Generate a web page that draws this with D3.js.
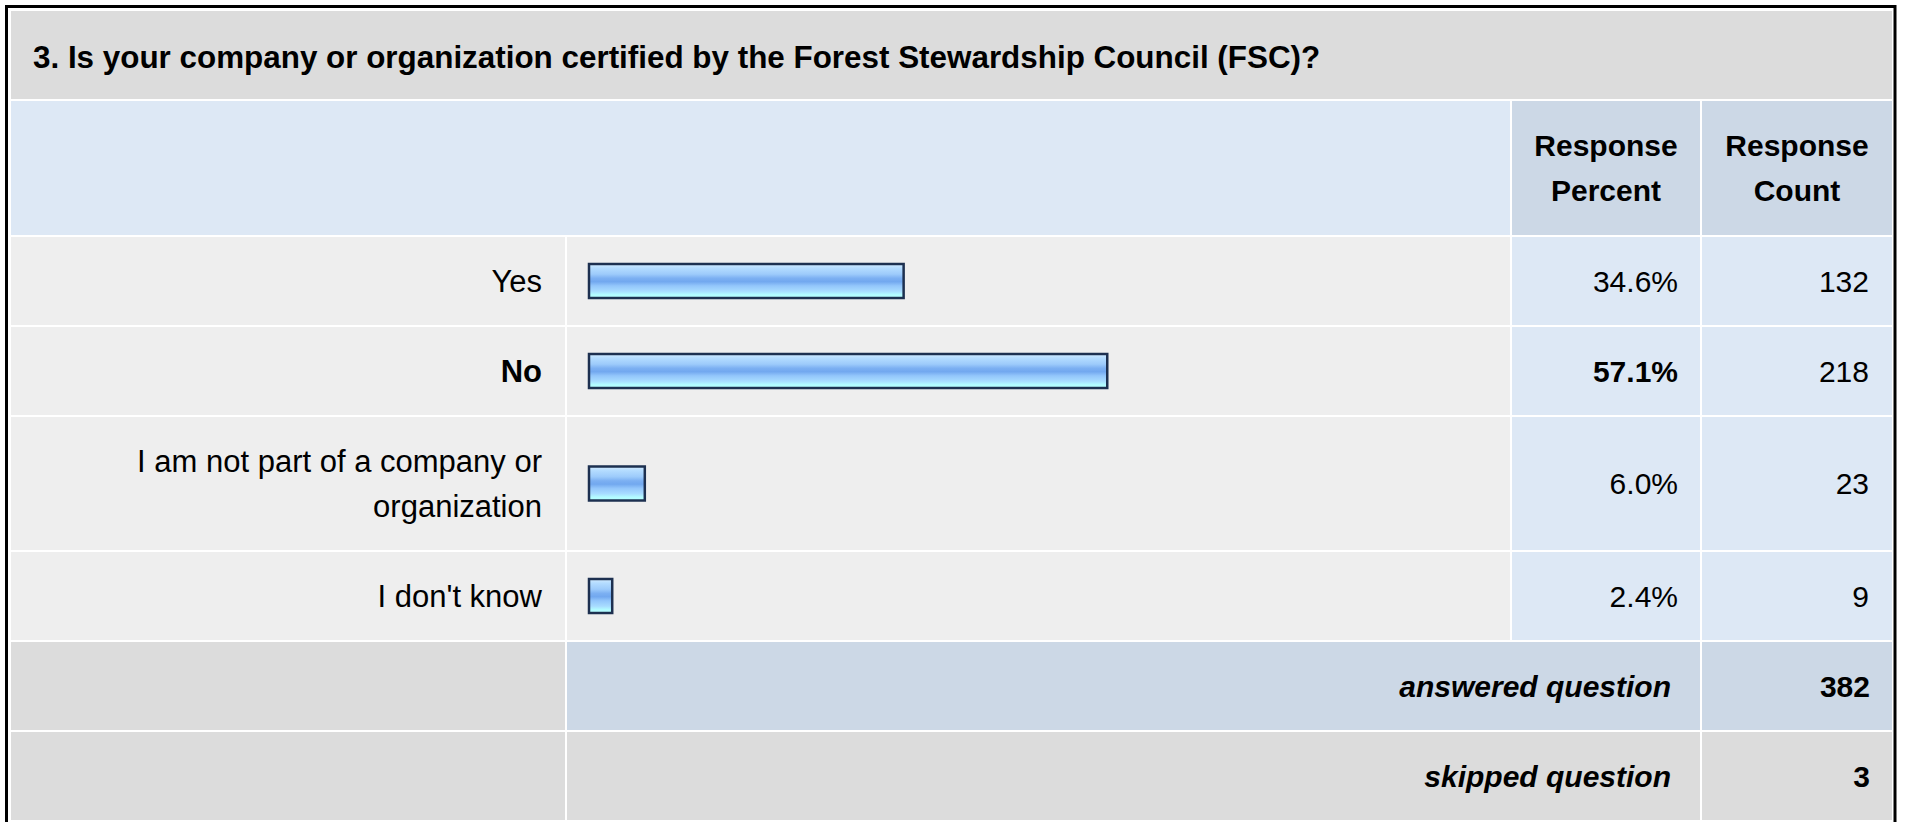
<!DOCTYPE html>
<html>
<head>
<meta charset="utf-8">
<title>Q3 FSC certification</title>
<script src="https://cdn.jsdelivr.net/npm/d3@7/dist/d3.min.js"></script>
<style>
  html, body { margin: 0; padding: 0; background: #fff; }
  svg { display: block; font-family: "Liberation Sans", Arial, Helvetica, sans-serif; }
</style>
</head>
<body>
<svg id="chart" width="1907" height="822"></svg>
<script>
// Survey question 3 — response table with an inline bar per answer.
var question = '3. Is your company or organization certified by the Forest Stewardship Council (FSC)?';
var categories = ['Yes', 'No', 'I am not part of a company or organization', "I don't know"];
var percents = [34.6, 57.1, 6.0, 2.4];
var counts = [132, 218, 23, 9];
var headerLabels = [['Response', 'Percent'], ['Response', 'Count']];
var summaryLabels = ['answered question', 'skipped question'];
var summaryValues = [382, 3];

var FONT = 30, LINE_H = 45, GAP = 2;
var GRAY = '#dcdcdc', ROW_BG = '#eeeeee', BLUE = '#dde8f5', BLUE_DARK = '#ccd8e6';

// column edges: label | bar | percent | count
var col = {
  label: [11, 565],
  bar:   [567, 1510],
  pct:   [1512, 1700],
  count: [1702, 1892]
};

var svg = d3.select('#chart');
var x = d3.scaleLinear().domain([0, 100]).range([0, 905]);
var fmtPct = function(v) { return d3.format('.1f')(v) + '%'; };
var maxPct = d3.max(percents);

var defs = svg.append('defs');
var grad = defs.append('linearGradient')
  .attr('id', 'barGrad').attr('x1', 0).attr('y1', 0).attr('x2', 0).attr('y2', 1);
[[0, '#d4ecff'], [0.12, '#b4dcff'], [0.3, '#9dcbfb'], [0.42, '#7cb0f2'], [0.52, '#72a8ef'],
 [0.64, '#93c6fb'], [0.8, '#a8dcff'], [0.9, '#b2fbff'], [1, '#b8ffff']].forEach(function(s) {
  grad.append('stop').attr('offset', s[0]).attr('stop-color', s[1]);
});

// hidden text used to measure label widths for wrapping
var probe = svg.append('text').attr('font-size', 31).attr('visibility', 'hidden');
function wrap(str, maxW) {
  var words = str.split(' '), lines = [], cur = '';
  words.forEach(function(w) {
    var t = cur ? cur + ' ' + w : w;
    probe.text(t);
    if (probe.node().getComputedTextLength() > maxW && cur) { lines.push(cur); cur = w; }
    else cur = t;
  });
  lines.push(cur);
  return lines;
}

function cell(c, y0, y1, fill) {
  svg.append('rect')
    .attr('x', c[0]).attr('y', y0)
    .attr('width', c[1] - c[0]).attr('height', y1 - y0)
    .attr('fill', fill);
}

function label(tx, ty, str, anchor, opts) {
  opts = opts || {};
  return svg.append('text')
    .attr('x', tx).attr('y', ty).attr('dy', '0.35em')
    .attr('text-anchor', anchor)
    .attr('font-size', opts.size || FONT)
    .attr('font-weight', opts.bold ? 'bold' : null)
    .attr('font-style', opts.italic ? 'italic' : null)
    .attr('fill', '#000')
    .text(str);
}

// title row
cell([11, 1892], 11, 99, GRAY);
label(33, 57, question, 'start', { bold: true, size: 31.4 });

// header row
var hy0 = 101, hy1 = 235, hcy = (hy0 + hy1) / 2;
cell([11, 1510], hy0, hy1, BLUE);
cell(col.pct, hy0, hy1, BLUE_DARK);
cell(col.count, hy0, hy1, BLUE_DARK);
[col.pct, col.count].forEach(function(c, i) {
  headerLabels[i].forEach(function(t, j) {
    label((c[0] + c[1]) / 2, hcy - LINE_H / 2 + j * LINE_H, t, 'middle', { bold: true });
  });
});

// answer rows
var y = hy1 + GAP;
categories.forEach(function(cat, i) {
  var lines = wrap(cat, 450);
  var h = 43 + lines.length * LINE_H;
  var y0 = y, y1 = y + h, cy = (y0 + y1) / 2;
  var top = percents[i] === maxPct;

  cell(col.label, y0, y1, ROW_BG);
  cell(col.bar, y0, y1, ROW_BG);
  cell(col.pct, y0, y1, BLUE);
  cell(col.count, y0, y1, BLUE);

  lines.forEach(function(t, j) {
    label(col.label[1] - 23, cy - (lines.length - 1) * LINE_H / 2 + j * LINE_H, t, 'end',
      { bold: top, size: 31 });
  });

  svg.append('rect')
    .attr('x', 589).attr('y', cy - 17)
    .attr('width', x(percents[i]) + 1.5).attr('height', 34)
    .attr('fill', 'url(#barGrad)')
    .attr('stroke', '#1d3050').attr('stroke-width', 2.5);

  label(col.pct[1] - 22, cy, fmtPct(percents[i]), 'end', { bold: top });
  label(col.count[1] - 23, cy, counts[i], 'end');

  y = y1 + GAP;
});

// answered / skipped rows
summaryLabels.forEach(function(t, i) {
  var y0 = y, y1 = y + 88, cy = (y0 + y1) / 2;
  var fill = i === 0 ? BLUE_DARK : GRAY;
  cell(col.label, y0, y1, GRAY);
  cell([col.bar[0], col.pct[1]], y0, y1, fill);
  cell(col.count, y0, y1, fill);
  label(col.pct[1] - 29, cy, t, 'end', { bold: true, italic: true });
  label(col.count[1] - 22, cy, summaryValues[i], 'end', { bold: true });
  y = y1 + GAP;
});

probe.remove();

// outer frame
svg.append('rect')
  .attr('x', 6.5).attr('y', 6.5).attr('width', 1888.5).attr('height', 830)
  .attr('fill', 'none').attr('stroke', '#000').attr('stroke-width', 3);
</script>
</body>
</html>
